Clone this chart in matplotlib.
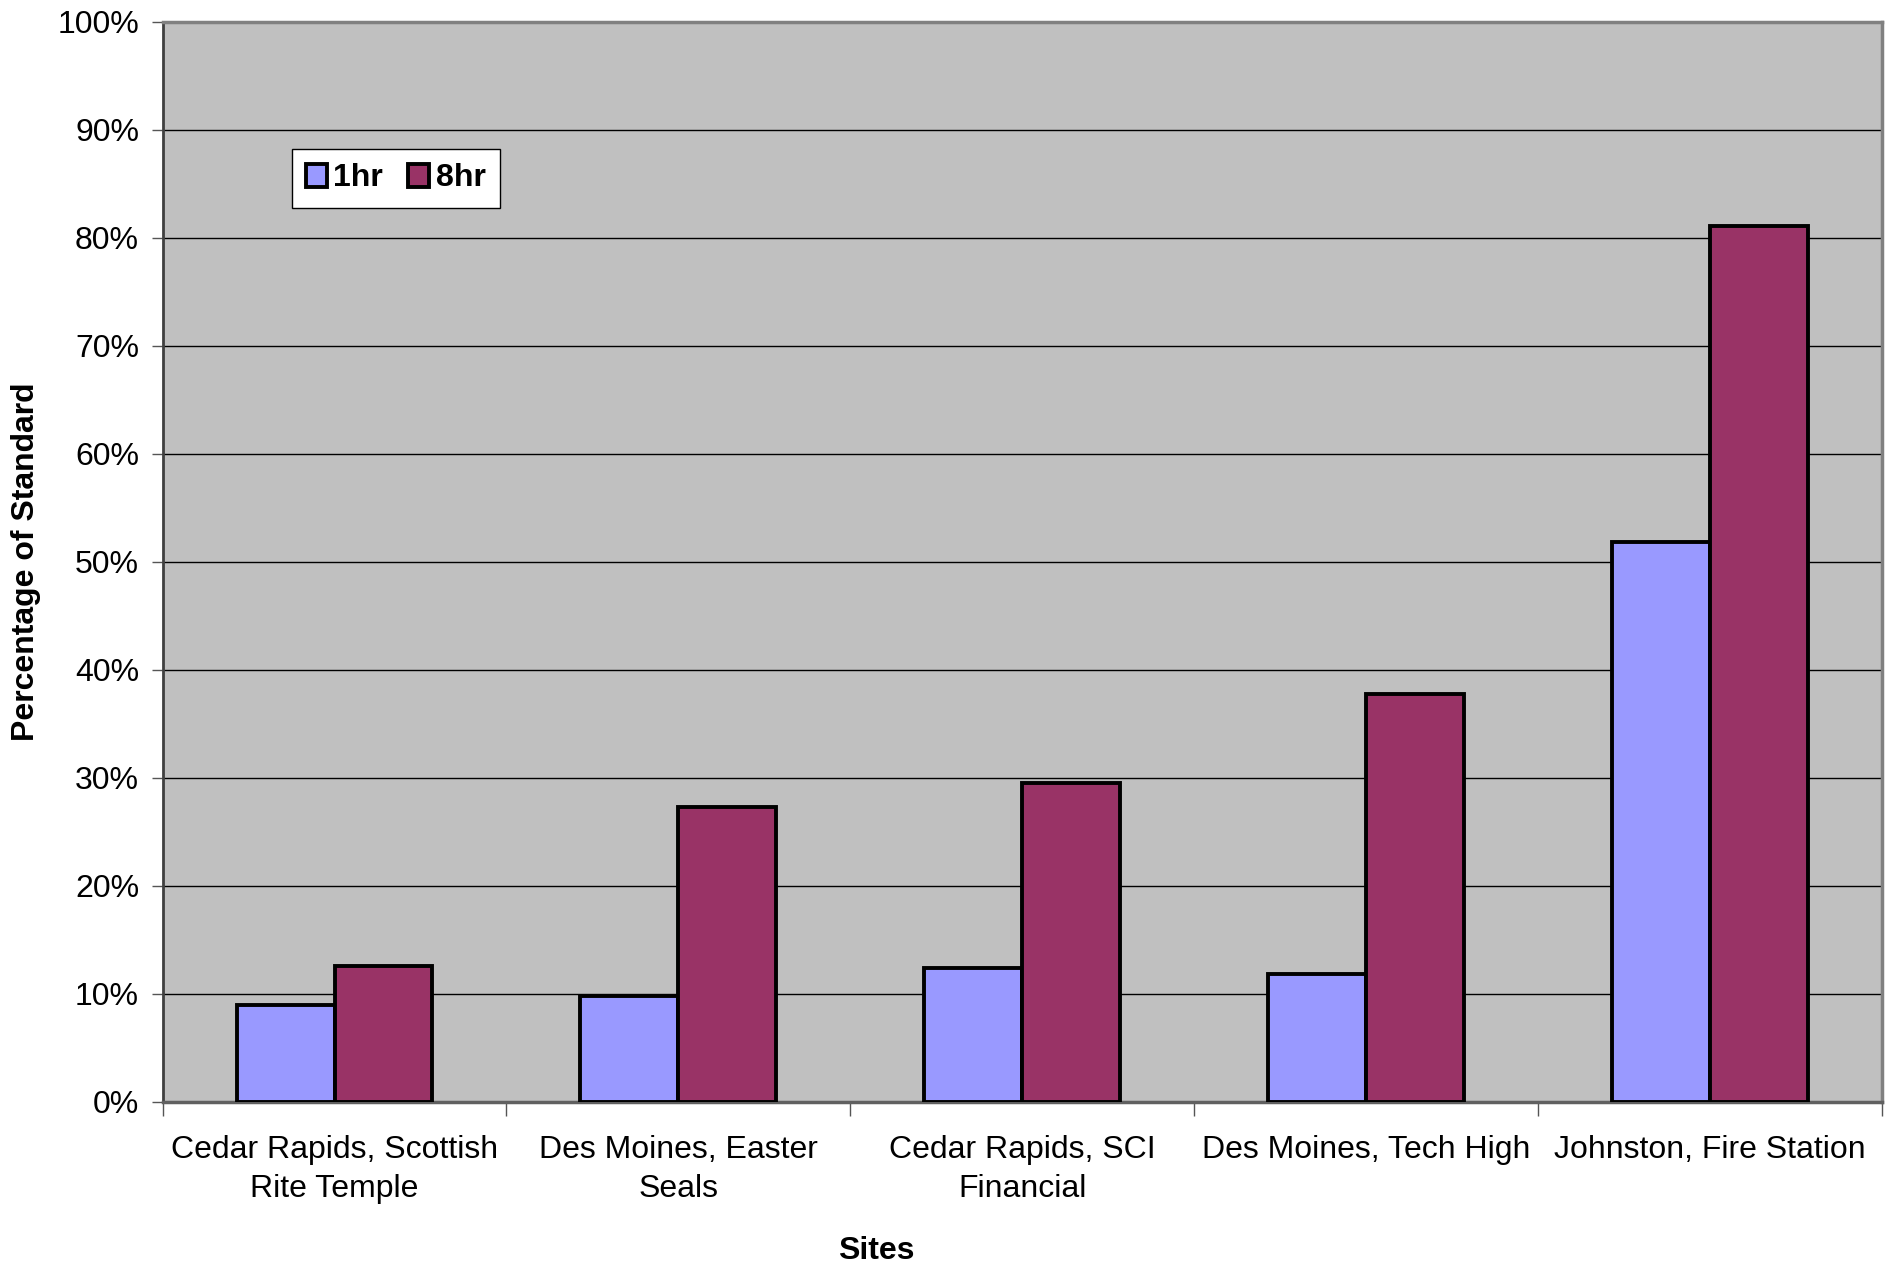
import numpy as np
import matplotlib.pyplot as plt
from matplotlib.ticker import PercentFormatter, FixedLocator

plt.rcParams['font.family'] = ['Liberation Sans', 'DejaVu Sans']

sites = ['Cedar Rapids, Scottish\nRite Temple', 'Des Moines, Easter\nSeals',
         'Cedar Rapids, SCI\nFinancial', 'Des Moines, Tech High',
         'Johnston, Fire Station']
hr1 = [9.0, 9.8, 12.4, 11.8, 51.8]
hr8 = [12.6, 27.3, 29.5, 37.8, 81.1]

fig = plt.figure(figsize=(18.91, 12.68), dpi=100)
ax = fig.add_axes([0.086, 0.131, 0.909, 0.852])
ax.set_facecolor('#c0c0c0')

x = np.arange(len(sites))
w = 0.285
ax.bar(x - w / 2, hr1, w, color='#9999ff', edgecolor='black', linewidth=2.8,
       label='1hr', zorder=3)
ax.bar(x + w / 2, hr8, w, color='#993366', edgecolor='black', linewidth=2.8,
       label='8hr', zorder=3)

ax.set_xlim(-0.5, len(sites) - 0.5)
ax.set_ylim(0, 100)
ax.set_yticks(np.arange(0, 101, 10))
ax.yaxis.set_major_formatter(PercentFormatter(decimals=0))
ax.grid(axis='y', color='black', linewidth=1, zorder=0)

ax.set_xticks(x)
ax.set_xticklabels(sites, linespacing=1.4)
ax.tick_params(axis='x', which='major', length=0, pad=24, labelsize=23)
ax.xaxis.set_minor_locator(FixedLocator(np.arange(-0.5, len(sites), 1)))
ax.tick_params(axis='x', which='minor', length=10, width=1, color='#555555')
ax.tick_params(axis='y', length=8, width=1, color='#555555', labelsize=23, pad=9)

for s in ['top', 'right']:
    ax.spines[s].set_color('#808080')
    ax.spines[s].set_linewidth(2.5)
ax.spines['left'].set_color('#404040')
ax.spines['left'].set_linewidth(2)
ax.spines['bottom'].set_color('#606060')
ax.spines['bottom'].set_linewidth(2.5)

ax.set_ylabel('Percentage of Standard', fontsize=23, fontweight='bold')
ax.yaxis.set_label_coords(-0.071, 0.5)
ax.set_xlabel('Sites', fontsize=23, fontweight='bold')
ax.xaxis.set_label_coords(0.415, -0.124)

leg = ax.legend(loc='upper left', bbox_to_anchor=(0.075, 0.882), ncol=2,
                fancybox=False, framealpha=1, edgecolor='black',
                prop={'size': 23, 'weight': 'bold'}, handlelength=0.65,
                handleheight=0.75, handletextpad=0.2, columnspacing=0.8,
                borderpad=0.45, borderaxespad=0)
leg.get_frame().set_linewidth(1)

fig.savefig('out.png', dpi=100)
